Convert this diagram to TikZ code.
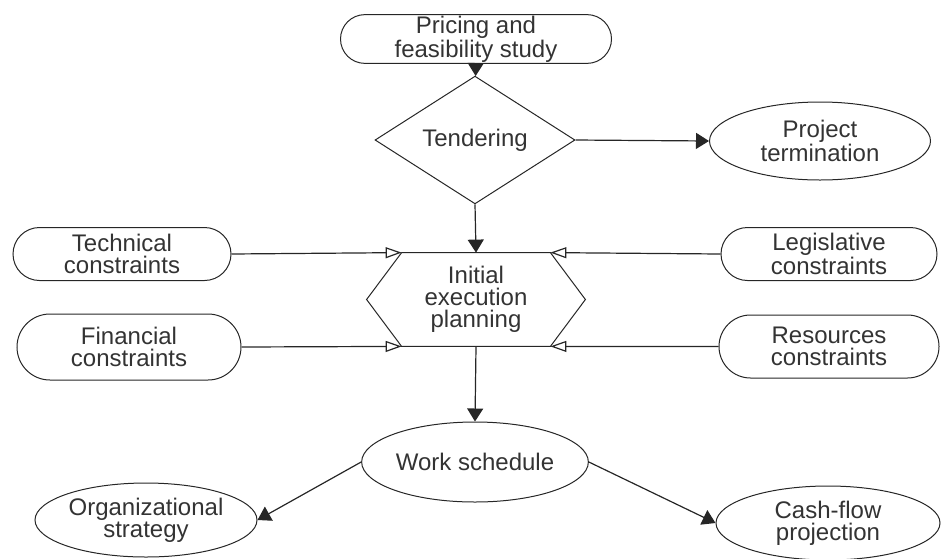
\documentclass[tikz,border=0pt]{standalone}
\usepackage{fontspec}
\setmainfont{Liberation Sans}
\usetikzlibrary{shapes.geometric, shapes.misc, arrows.meta}

\definecolor{cLine}{gray}{0.15}
\definecolor{cText}{gray}{0.2}

\begin{document}
\begin{tikzpicture}[x=0.5pt, y=-0.5pt,
    every node/.style={font=\fontsize{12}{11}\selectfont, text=cText, align=center, inner sep=0.5pt},
    pill/.style={rounded rectangle, draw=cLine, line width=0.5pt},
    oval/.style={ellipse, draw=cLine, line width=0.5pt},
    flow/.style={draw=cLine, line width=0.6pt, -{Triangle[length=6.5pt, width=8pt]}},
    feed/.style={draw=cLine, line width=0.6pt, -{Triangle[open, length=8pt, width=5.5pt]}}]

\useasboundingbox (0,0) rectangle (941,558);

% ── Tender stage ──
\node[pill, minimum width=136.5pt, minimum height=24pt] (price) at (476,39) {Pricing and\\feasibility study};
\node[diamond, draw=cLine, line width=0.5pt, inner sep=0pt, minimum width=100pt, minimum height=52.5pt] (tender) at (475,140) {Tendering};
\node[oval, minimum width=110.5pt, minimum height=39pt] (stop) at (820,141) {Project\\termination};

% ── Planning hexagon ──
\node[minimum width=74pt, minimum height=46.5pt] (plan) at (476,299.5) {Initial\\execution\\planning};
\draw[cLine, line width=0.5pt] (plan.north west) -- ([xshift=-17.5pt]plan.west) -- (plan.south west)
    -- (plan.south east) -- ([xshift=17.5pt]plan.east) -- (plan.north east) -- cycle;

% ── Constraints ──
\node[pill, minimum width=110pt, minimum height=26.5pt] (tech) at (122,254) {Technical\\constraints};
\node[pill, minimum width=113pt, minimum height=33pt] (fin) at (129,347) {Financial\\constraints};
\node[pill, minimum width=109pt, minimum height=26.5pt] (legal) at (829,254) {Legislative\\constraints};
\node[pill, minimum width=111pt, minimum height=31.5pt] (res) at (829,346.5) {Resources\\constraints};

% ── Outputs ──
\node[oval, minimum width=110pt, minimum height=40pt] (work) at (475,462) {Work schedule};
\node[oval, minimum width=111pt, minimum height=37pt] (org) at (146,520) {Organizational\\strategy};
\node[oval, minimum width=112pt, minimum height=37pt] (cash) at (828,523) {Cash-flow\\projection};

% ── Connectors ──
\draw[flow] (price) -- (tender);
\draw[flow] (tender.east) -- (stop.west);
\draw[flow] (tender.south) -- (plan.north);
\draw[flow] (plan.south) -- (work.north);
\draw[flow] (work.west) -- (org.east);
\draw[flow] (work.east) -- (cash.west);

\draw[feed] (tech.east) -- (plan.north west);
\draw[feed] (fin.east) -- (plan.south west);
\draw[feed] (legal.west) -- (plan.north east);
\draw[feed] (res.west) -- (plan.south east);

\end{tikzpicture}
\end{document}
